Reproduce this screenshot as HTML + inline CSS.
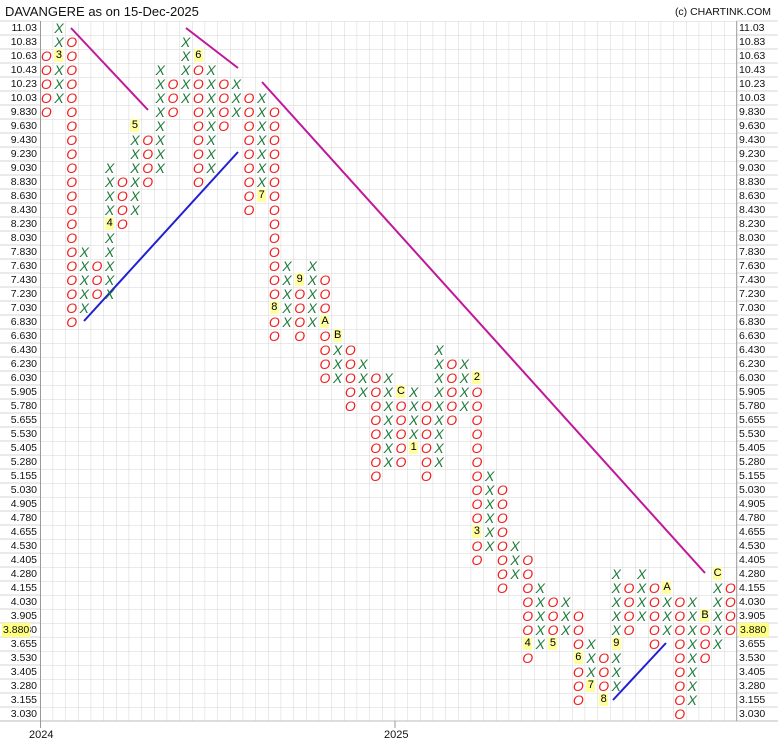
<!DOCTYPE html>
<html><head><meta charset="utf-8"><style>
body{margin:0;background:#fff;}
#w{position:relative;width:778px;height:750px;overflow:hidden;background:#fff;font-family:"Liberation Sans",sans-serif;}
svg{position:absolute;left:0;top:0;}
.c{position:absolute;width:12.67px;line-height:14px;font-size:14px;font-style:italic;text-align:center;word-break:break-all;}
.o{color:#f02020;}
.x{color:#1e7a3a;}
.c b{display:inline-block;font-style:normal;font-weight:normal;color:#000;background:#ffffa0;font-size:11px;line-height:13px;width:9px;margin:0 0 1px 0;vertical-align:top;}
.l{position:absolute;font-size:10.5px;color:#111;line-height:14px;}
.ll{left:0;width:37px;text-align:right;}
.rl{left:739px;}
</style></head><body><div id="w">
<svg width="778" height="750">
<defs><pattern id="g" x="40" y="21" width="12.667" height="14" patternUnits="userSpaceOnUse"><path d="M0 0V14M0 0H12.667" stroke="#d4d4d4" stroke-width="1" fill="none"/></pattern></defs>
<rect x="40" y="21" width="696.7" height="700" fill="url(#g)"/>
<g stroke="#d4d4d4">
<path d="M0 21H40M737 21H778M0 35H40M737 35H778M0 49H40M737 49H778M0 63H40M737 63H778M0 77H40M737 77H778M0 91H40M737 91H778M0 105H40M737 105H778M0 119H40M737 119H778M0 133H40M737 133H778M0 147H40M737 147H778M0 161H40M737 161H778M0 175H40M737 175H778M0 189H40M737 189H778M0 203H40M737 203H778M0 217H40M737 217H778M0 231H40M737 231H778M0 245H40M737 245H778M0 259H40M737 259H778M0 273H40M737 273H778M0 287H40M737 287H778M0 301H40M737 301H778M0 315H40M737 315H778M0 329H40M737 329H778M0 343H40M737 343H778M0 357H40M737 357H778M0 371H40M737 371H778M0 385H40M737 385H778M0 399H40M737 399H778M0 413H40M737 413H778M0 427H40M737 427H778M0 441H40M737 441H778M0 455H40M737 455H778M0 469H40M737 469H778M0 483H40M737 483H778M0 497H40M737 497H778M0 511H40M737 511H778M0 525H40M737 525H778M0 539H40M737 539H778M0 553H40M737 553H778M0 567H40M737 567H778M0 581H40M737 581H778M0 595H40M737 595H778M0 609H40M737 609H778M0 623H40M737 623H778M0 637H40M737 637H778M0 651H40M737 651H778M0 665H40M737 665H778M0 679H40M737 679H778M0 693H40M737 693H778M0 707H40M737 707H778"/>
</g>
<path d="M0 721H778" stroke="#bbb"/>
<path d="M40.5 21V728M736.7 21V721M395 721V728" stroke="#999"/>
<g stroke="#c0189a" stroke-width="2" fill="none">
<path d="M71 28L148 110"/><path d="M186 28L238 68"/><path d="M262 82L705 573"/>
</g>
<g stroke="#2020d0" stroke-width="2" fill="none">
<path d="M84 321L238 152"/><path d="M613 700L666 643"/>
</g>
</svg>
<div style="position:absolute;left:5px;top:4px;font-size:13px;color:#111;">DAVANGERE as on 15-Dec-2025</div>
<div style="position:absolute;right:7px;top:6px;font-size:10.5px;color:#111;">(c) CHARTINK.COM</div>

<div class="l ll" style="top:21px">11.03</div><div class="l ll" style="top:35px">10.83</div><div class="l ll" style="top:49px">10.63</div><div class="l ll" style="top:63px">10.43</div><div class="l ll" style="top:77px">10.23</div><div class="l ll" style="top:91px">10.03</div><div class="l ll" style="top:105px">9.830</div><div class="l ll" style="top:119px">9.630</div><div class="l ll" style="top:133px">9.430</div><div class="l ll" style="top:147px">9.230</div><div class="l ll" style="top:161px">9.030</div><div class="l ll" style="top:175px">8.830</div><div class="l ll" style="top:189px">8.630</div><div class="l ll" style="top:203px">8.430</div><div class="l ll" style="top:217px">8.230</div><div class="l ll" style="top:231px">8.030</div><div class="l ll" style="top:245px">7.830</div><div class="l ll" style="top:259px">7.630</div><div class="l ll" style="top:273px">7.430</div><div class="l ll" style="top:287px">7.230</div><div class="l ll" style="top:301px">7.030</div><div class="l ll" style="top:315px">6.830</div><div class="l ll" style="top:329px">6.630</div><div class="l ll" style="top:343px">6.430</div><div class="l ll" style="top:357px">6.230</div><div class="l ll" style="top:371px">6.030</div><div class="l ll" style="top:385px">5.905</div><div class="l ll" style="top:399px">5.780</div><div class="l ll" style="top:413px">5.655</div><div class="l ll" style="top:427px">5.530</div><div class="l ll" style="top:441px">5.405</div><div class="l ll" style="top:455px">5.280</div><div class="l ll" style="top:469px">5.155</div><div class="l ll" style="top:483px">5.030</div><div class="l ll" style="top:497px">4.905</div><div class="l ll" style="top:511px">4.780</div><div class="l ll" style="top:525px">4.655</div><div class="l ll" style="top:539px">4.530</div><div class="l ll" style="top:553px">4.405</div><div class="l ll" style="top:567px">4.280</div><div class="l ll" style="top:581px">4.155</div><div class="l ll" style="top:595px">4.030</div><div class="l ll" style="top:609px">3.905</div><div class="l ll" style="top:623px">3.780</div><div class="l ll" style="top:637px">3.655</div><div class="l ll" style="top:651px">3.530</div><div class="l ll" style="top:665px">3.405</div><div class="l ll" style="top:679px">3.280</div><div class="l ll" style="top:693px">3.155</div><div class="l ll" style="top:707px">3.030</div>
<div class="l" style="left:2px;top:623px;background:#ffff80;padding:0 1px;">3.880</div>

<div class="l rl" style="top:21px">11.03</div><div class="l rl" style="top:35px">10.83</div><div class="l rl" style="top:49px">10.63</div><div class="l rl" style="top:63px">10.43</div><div class="l rl" style="top:77px">10.23</div><div class="l rl" style="top:91px">10.03</div><div class="l rl" style="top:105px">9.830</div><div class="l rl" style="top:119px">9.630</div><div class="l rl" style="top:133px">9.430</div><div class="l rl" style="top:147px">9.230</div><div class="l rl" style="top:161px">9.030</div><div class="l rl" style="top:175px">8.830</div><div class="l rl" style="top:189px">8.630</div><div class="l rl" style="top:203px">8.430</div><div class="l rl" style="top:217px">8.230</div><div class="l rl" style="top:231px">8.030</div><div class="l rl" style="top:245px">7.830</div><div class="l rl" style="top:259px">7.630</div><div class="l rl" style="top:273px">7.430</div><div class="l rl" style="top:287px">7.230</div><div class="l rl" style="top:301px">7.030</div><div class="l rl" style="top:315px">6.830</div><div class="l rl" style="top:329px">6.630</div><div class="l rl" style="top:343px">6.430</div><div class="l rl" style="top:357px">6.230</div><div class="l rl" style="top:371px">6.030</div><div class="l rl" style="top:385px">5.905</div><div class="l rl" style="top:399px">5.780</div><div class="l rl" style="top:413px">5.655</div><div class="l rl" style="top:427px">5.530</div><div class="l rl" style="top:441px">5.405</div><div class="l rl" style="top:455px">5.280</div><div class="l rl" style="top:469px">5.155</div><div class="l rl" style="top:483px">5.030</div><div class="l rl" style="top:497px">4.905</div><div class="l rl" style="top:511px">4.780</div><div class="l rl" style="top:525px">4.655</div><div class="l rl" style="top:539px">4.530</div><div class="l rl" style="top:553px">4.405</div><div class="l rl" style="top:567px">4.280</div><div class="l rl" style="top:581px">4.155</div><div class="l rl" style="top:595px">4.030</div><div class="l rl" style="top:609px">3.905</div><div class="l rl" style="top:623px;background:#ffff80;padding:0 3px 0 1px;">3.880</div><div class="l rl" style="top:637px">3.655</div><div class="l rl" style="top:651px">3.530</div><div class="l rl" style="top:665px">3.405</div><div class="l rl" style="top:679px">3.280</div><div class="l rl" style="top:693px">3.155</div><div class="l rl" style="top:707px">3.030</div>

<div class="l" style="left:29px;top:728px;font-size:11px;">2024</div>
<div class="l" style="left:384px;top:728px;font-size:11px;">2025</div>

<div class="c o" style="left:40px;top:49px">OOOOO</div>
<div class="c x" style="left:52.67px;top:21px">XX<b>3</b>XXX</div>
<div class="c o" style="left:65.33px;top:35px">OOOOOOOOOOOOOOOOOOOOO</div>
<div class="c x" style="left:78px;top:245px">XXXXX</div>
<div class="c o" style="left:90.67px;top:259px">OOO</div>
<div class="c x" style="left:103.33px;top:161px">XXXX<b>4</b>XXXXX</div>
<div class="c o" style="left:116px;top:175px">OOOO</div>
<div class="c x" style="left:128.67px;top:119px"><b>5</b>XXXXXX</div>
<div class="c o" style="left:141.33px;top:133px">OOOO</div>
<div class="c x" style="left:154px;top:63px">XXXXXXXX</div>
<div class="c o" style="left:166.67px;top:77px">OOO</div>
<div class="c x" style="left:179.33px;top:35px">XXXXX</div>
<div class="c o" style="left:192px;top:49px"><b>6</b>OOOOOOOOO</div>
<div class="c x" style="left:204.67px;top:63px">XXXXXXXX</div>
<div class="c o" style="left:217.33px;top:77px">OOOO</div>
<div class="c x" style="left:230px;top:77px">XXX</div>
<div class="c o" style="left:242.67px;top:91px">OOOOOOOOO</div>
<div class="c x" style="left:255.33px;top:91px">XXXXXXX<b>7</b></div>
<div class="c o" style="left:268px;top:105px">OOOOOOOOOOOOOO<b>8</b>OO</div>
<div class="c x" style="left:280.67px;top:259px">XXXXX</div>
<div class="c o" style="left:293.33px;top:273px"><b>9</b>OOOO</div>
<div class="c x" style="left:306px;top:259px">XXXXX</div>
<div class="c o" style="left:318.67px;top:273px">OOO<b>A</b>OOOO</div>
<div class="c x" style="left:331.33px;top:329px"><b>B</b>XXX</div>
<div class="c o" style="left:344px;top:343px">OOOOO</div>
<div class="c x" style="left:356.67px;top:357px">XXX</div>
<div class="c o" style="left:369.33px;top:371px">OOOOOOOO</div>
<div class="c x" style="left:382px;top:371px">XXXXXXX</div>
<div class="c o" style="left:394.67px;top:385px"><b>C</b>OOOOO</div>
<div class="c x" style="left:407.33px;top:385px">XXXX<b>1</b></div>
<div class="c o" style="left:420px;top:399px">OOOOOO</div>
<div class="c x" style="left:432.67px;top:343px">XXXXXXXXX</div>
<div class="c o" style="left:445.33px;top:357px">OOOOO</div>
<div class="c x" style="left:458px;top:357px">XXXX</div>
<div class="c o" style="left:470.67px;top:371px"><b>2</b>OOOOOOOOOO<b>3</b>OO</div>
<div class="c x" style="left:483.33px;top:469px">XXXXXX</div>
<div class="c o" style="left:496px;top:483px">OOOOOOOO</div>
<div class="c x" style="left:508.67px;top:539px">XXX</div>
<div class="c o" style="left:521.33px;top:553px">OOOOOO<b>4</b>O</div>
<div class="c x" style="left:534px;top:581px">XXXXX</div>
<div class="c o" style="left:546.67px;top:595px">OOO<b>5</b></div>
<div class="c x" style="left:559.33px;top:595px">XXX</div>
<div class="c o" style="left:572px;top:609px">OOO<b>6</b>OOO</div>
<div class="c x" style="left:584.67px;top:637px">XXX<b>7</b></div>
<div class="c o" style="left:597.33px;top:651px">OOO<b>8</b></div>
<div class="c x" style="left:610px;top:567px">XXXXX<b>9</b>XXX</div>
<div class="c o" style="left:622.67px;top:581px">OOOO</div>
<div class="c x" style="left:635.33px;top:567px">XXXX</div>
<div class="c o" style="left:648px;top:581px">OOOOO</div>
<div class="c x" style="left:660.67px;top:581px"><b>A</b>XXX</div>
<div class="c o" style="left:673.33px;top:595px">OOOOOOOOO</div>
<div class="c x" style="left:686px;top:595px">XXXXXXXX</div>
<div class="c o" style="left:698.67px;top:609px"><b>B</b>OOO</div>
<div class="c x" style="left:711.33px;top:567px"><b>C</b>XXXXX</div>
<div class="c o" style="left:724px;top:581px">OOOO</div>
</div></body></html>
